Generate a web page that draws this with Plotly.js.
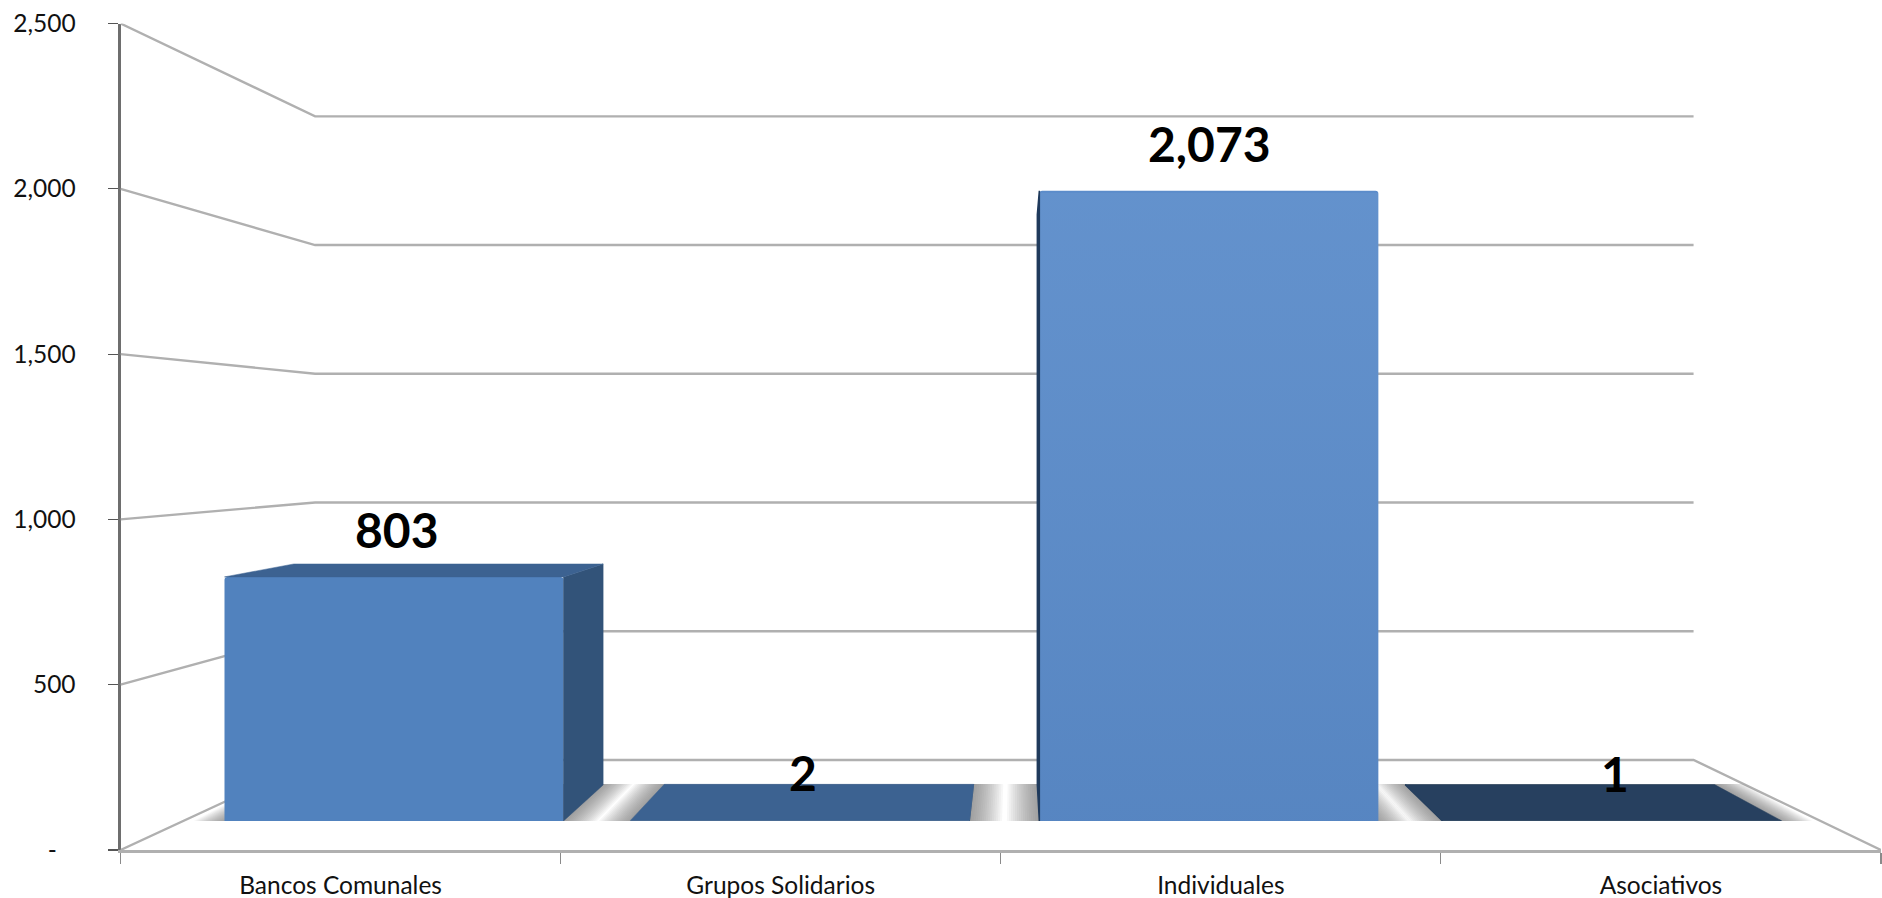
<!DOCTYPE html>
<html>
<head>
<meta charset="utf-8">
<script src="https://cdn.plot.ly/plotly-3.0.1.min.js"></script>
<style>html,body{margin:0;padding:0;background:#fff}#chart{width:1882px;height:898px}</style>
</head>
<body>
<div id="chart"></div>
<script>
// ---------- data ----------
const categories = ["Bancos Comunales", "Grupos Solidarios", "Individuales", "Asociativos"];
const values = [803, 2, 2073, 1];
const valueLabels = ["803", "2", "2,073", "1"];
const frontColors = ["#5182BE", "#3C6291", "#5B8CCA", "#27405F"];
const topColors = ["#3C6291", "#3C6291", "#3C6291", "#27405F"];
const sideColors = ["#325379", "#325379", "#1F3A5C", "#27405F"];
const yTickVals = [0, 500, 1000, 1500, 2000, 2500];
const yTickText = ["-\u00A0\u00A0\u00A0", "500", "1,000", "1,500", "2,000", "2,500"];

// ---------- layout geometry ----------
const W = 1882, H = 898;
const fx = p => p / W, fy = p => (H - p) / H;
const FONT = "Lato, Carlito, Calibri, sans-serif";

// Perspective: vanishing point in each subplot's own data units
const wallVP = {c: 1.5375, v: 1231};      // axis plane
const barVP  = {c: 1.533,  v: 1250};      // bar front plane
const wallDepth = {x: 0.783, y: 0.7787};  // back wall relative to axis plane
const barDepth = {x: 0.9125, y: 0.905};   // bar back relative to bar front
const barWidth = 0.835;
const barNudge = [0, 0, 0.007, 0];        // small placement correction per slot
const barCentre = i => i + barNudge[i];
const proj = (vp, c, v, r) => [vp.c + (c - vp.c) * r.x, vp.v + (v - vp.v) * r.y];

const traces = [];

// main axes: carries the category axis and value axis
traces.push({type: "scatter", mode: "none", x: categories, y: values, xaxis: "x", yaxis: "y",
             hoverinfo: "skip", showlegend: false});

// wall + floor lines
yTickVals.forEach(v => {
  const backL = proj(wallVP, -0.5, v, wallDepth), backR = proj(wallVP, 3.5, v, wallDepth);
  const xs = [-0.5, backL[0], backR[0]], ys = [v, backL[1], backR[1]];
  if (v === 0) { xs.push(3.5); ys.push(0); }
  traces.push({type: "scatter", mode: "lines", x: xs, y: ys, xaxis: "x2", yaxis: "y2",
               line: {color: "#b0b0b0", width: 2.4}, hoverinfo: "skip", showlegend: false});
});

// soft floor shadows (stacked translucent footprints)
const shadowSteps = [0.080, 0.075, 0.070, 0.065, 0.060, 0.055, 0.050, 0.045, 0.040, 0.035, 0.030, 0.025, 0.020, 0.015, 0.010, 0.005];
categories.forEach((_, i) => {
  const h = barWidth / 2, cx = barCentre(i);
  shadowSteps.forEach(s => {
    const a = proj(barVP, cx - h - s, 0, barDepth), b = proj(barVP, cx + h + s, 0, barDepth);
    traces.push({type: "scatter", mode: "lines", fill: "toself", line: {width: 0},
      fillcolor: "rgba(95,95,95,0.05)",
      x: [cx - h - s, cx + h + s, b[0], a[0], cx - h - s], y: [-3, -3, b[1] + 3, a[1] + 3, -3],
      xaxis: "x3", yaxis: "y3", hoverinfo: "skip", showlegend: false});
  });
});

// bar front faces
traces.push({type: "bar", x: categories.map((_, i) => barCentre(i)), y: values, width: barWidth,
  marker: {color: frontColors, line: {width: 0}, cornerradius: 3},
  xaxis: "x4", yaxis: "y4", hoverinfo: "skip", showlegend: false});

// subtle vertical sheen on the tallest face
categories.forEach((_, i) => {
  if (values[i] < 1000) return;
  const l = barCentre(i) - barWidth / 2, r = barCentre(i) + barWidth / 2, v = values[i];
  traces.push({type: "scatter", mode: "none", fill: "toself",
    fillgradient: {type: "vertical", colorscale: [[0, "rgba(20,30,60,0.06)"], [1, "rgba(255,255,255,0.05)"]]},
    x: [l, r, r, l, l], y: [0, 0, v * 0.997, v * 0.997, 0],
    xaxis: "x4", yaxis: "y4", hoverinfo: "skip", showlegend: false});
});

// bar depth faces
categories.forEach((_, i) => {
  const v = values[i], l = barCentre(i) - barWidth / 2, r = barCentre(i) + barWidth / 2;
  const bl0 = proj(barVP, l, 0, barDepth), br0 = proj(barVP, r, 0, barDepth);
  const blT = proj(barVP, l, v, barDepth), brT = proj(barVP, r, v, barDepth);
  // side face seen only on the side facing the vanishing point
  if (r < barVP.c) {
    traces.push({type: "scatter", mode: "lines", fill: "toself", fillcolor: sideColors[i],
      line: {width: 0.5, color: sideColors[i]},
      x: [r, brT[0], br0[0], r, r], y: [v, brT[1], br0[1], 0, v],
      xaxis: "x4", yaxis: "y4", hoverinfo: "skip", showlegend: false});
  }
  if (l > barVP.c) {
    traces.push({type: "scatter", mode: "lines", fill: "toself", fillcolor: sideColors[i],
      line: {width: 1.5, color: sideColors[i]},
      x: [l, blT[0], bl0[0], l, l], y: [v, blT[1], bl0[1], 0, v],
      xaxis: "x4", yaxis: "y4", hoverinfo: "skip", showlegend: false});
  }
  // top face seen only below the horizon
  if (v < barVP.v) {
    traces.push({type: "scatter", mode: "lines", fill: "toself", fillcolor: topColors[i],
      line: {width: 0.5, color: topColors[i]},
      x: [l, r, brT[0], blT[0], l], y: [v, v, brT[1], blT[1], v],
      xaxis: "x4", yaxis: "y4", hoverinfo: "skip", showlegend: false});
  }
});

// ---------- axes ----------
const axisDomX = [fx(120.5), fx(1881)], axisDomY = [fy(850), fy(23.5)];
const barDomX = [fx(191), fx(1815)], barDomY = [fy(821), fy(23.5)];
const barYMax = (821 - 23.5) / 0.304;
const hidden = {visible: false, fixedrange: true, showgrid: false, zeroline: false};

const layout = {
  width: W, height: H,
  margin: {l: 0, r: 0, t: 0, b: 0, pad: 0},
  paper_bgcolor: "#fff", plot_bgcolor: "rgba(0,0,0,0)",
  showlegend: false, hovermode: false, barmode: "overlay",
  xaxis: {type: "category", categoryorder: "array", categoryarray: categories, range: [-0.5, 3.5],
    domain: axisDomX, anchor: "y", tickson: "boundaries", ticks: "outside", ticklen: 11, tickwidth: 1.2,
    tickcolor: "#8a8a8a", showline: true, linecolor: "#b0b0b0", linewidth: 2.5, showgrid: false, zeroline: false,
    ticklabelstandoff: 12, tickfont: {family: FONT, size: 24.5, color: "#111"}, fixedrange: true, tickangle: 0},
  yaxis: {range: [0, 2500], domain: axisDomY, anchor: "x", tickmode: "array", tickvals: yTickVals, ticktext: yTickText,
    ticks: "outside", ticklen: 10, tickwidth: 1.2, tickcolor: "#555", showline: true, linecolor: "#6e6e6e", linewidth: 3,
    showgrid: false, zeroline: false, ticklabelstandoff: 27, tickfont: {family: FONT, size: 24.5, color: "#111"}, fixedrange: true},
  xaxis2: {...hidden, range: [-0.5, 3.5], domain: axisDomX, anchor: "y2"},
  yaxis2: {...hidden, range: [0, 2500], domain: axisDomY, anchor: "x2"},
  xaxis3: {...hidden, range: [-0.5, 3.5], domain: barDomX, anchor: "y3"},
  yaxis3: {...hidden, range: [0, barYMax], domain: barDomY, anchor: "x3"},
  xaxis4: {...hidden, range: [-0.5, 3.5], domain: barDomX, anchor: "y4"},
  yaxis4: {...hidden, range: [0, barYMax], domain: barDomY, anchor: "x4"},
  annotations: categories.map((_, i) => ({
    xref: "x4", yref: "y4", x: i, y: values[i], text: valueLabels[i], showarrow: false,
    xanchor: "center", yanchor: "bottom", yshift: 17, xshift: 3,
    font: {family: FONT, size: 48, color: "#000", weight: 700}
  }))
};

Plotly.newPlot("chart", traces, layout, {displayModeBar: false, staticPlot: true});
</script>
</body>
</html>
